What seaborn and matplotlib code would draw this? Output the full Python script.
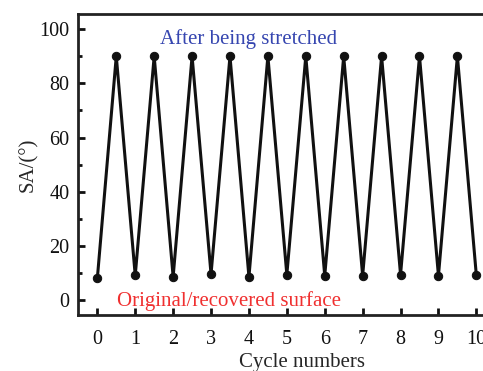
import matplotlib.pyplot as plt
import seaborn as sns
import pandas as pd

sns.set_style("ticks")
plt.rcParams['font.family'] = ['Liberation Serif', 'DejaVu Serif']

cycle = [0, 0.5, 1, 1.5, 2, 2.5, 3, 3.5, 4, 4.5, 5, 5.5, 6, 6.5, 7, 7.5, 8, 8.5, 9, 9.5, 10]
sa = [8.0, 90, 9.1, 90, 8.6, 90, 9.6, 90, 8.6, 90, 9.4, 90, 9.0, 90, 9.0, 90, 9.4, 90, 9.0, 90, 9.1]
xticks = list(range(0, 11))
yticks = [0, 20, 40, 60, 80, 100]

data = pd.DataFrame({'cycle': cycle, 'sa': sa})

fig = plt.figure(figsize=(4.83, 3.71), dpi=100)
ax = fig.add_axes([78 / 483, 1 - 315 / 371, (526 - 78) / 483, (315 - 14) / 371])

sns.lineplot(data=data, x='cycle', y='sa', ax=ax, color='#111111', linewidth=2.2,
             marker='o', markersize=6, markeredgecolor='#111111', sort=False)

ax.set_xlim(-0.51, 11.31)
ax.set_ylim(-5.5, 105.6)
ax.set_xticks(xticks)
ax.set_yticks(yticks)
ax.set_yticks(range(10, 101, 20), minor=True)
ax.tick_params(axis='both', which='both', direction='in', labelsize=14.5, width=2, colors='#111111')
ax.tick_params(axis='both', which='major', length=5)
ax.tick_params(axis='x', which='major', pad=11)
ax.tick_params(axis='y', which='major', pad=6)
ax.tick_params(axis='y', which='minor', length=3)
for s in ax.spines.values():
    s.set_linewidth(2)
    s.set_color('#222222')

ax.set_xlabel('Cycle numbers', fontsize=15, labelpad=3)
ax.set_ylabel('SA/(°)', fontsize=15, labelpad=1)

ax.text(4.0, 96.5, 'After being stretched', color='#3646b0', fontsize=15, ha='center', va='center')
ax.text(3.47, -0.3, 'Original/recovered surface', color='#f03030', fontsize=15, ha='center', va='center')

fig.savefig('out.png', dpi=100)
